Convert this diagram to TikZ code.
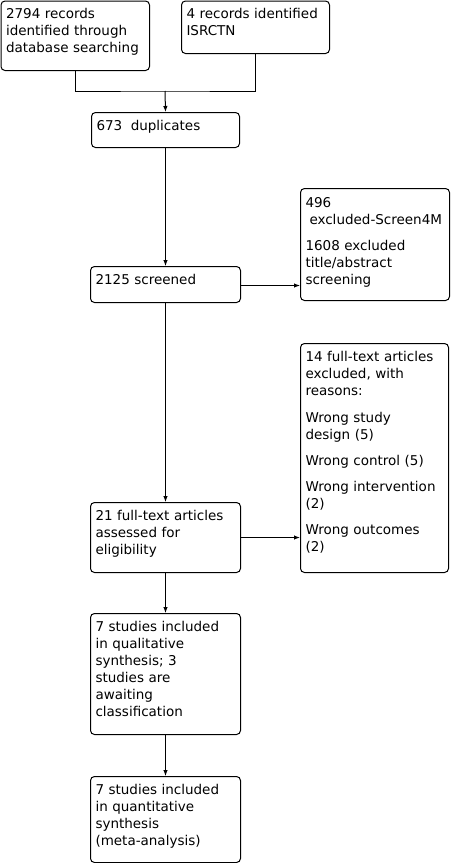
\documentclass[tikz,border=0pt]{standalone}
\usepackage{fontspec}
\setmainfont{DejaVu Sans}
\usetikzlibrary{arrows.meta}
\tikzset{
	box/.style={draw,rounded corners=4pt,line width=1pt,inner sep=0pt,anchor=north west},
	txt/.style={anchor=base west,inner sep=0pt,align=left,text width=160pt,font=\fontsize{13.5}{17}\selectfont},
	arr/.style={-{Latex[length=6pt,width=4.5pt]},line width=1pt}
}
\begin{document}
\begin{tikzpicture}[x=1pt,y=-1pt,line width=1pt]
	\useasboundingbox (0,0) rectangle (452,863);
	
	\node[box,minimum width=148.5pt,minimum height=69.5pt] (srch) at (0.5,0.5) {};
	\node[box,minimum width=148pt,minimum height=52.5pt] (isrctn) at (181,0.5) {};
	\node[box,minimum width=148pt,minimum height=35pt] (dupl) at (91,112) {};
	\node[box,minimum width=150pt,minimum height=36pt] (scrn) at (90,266) {};
	\node[box,minimum width=149pt,minimum height=112pt] (excla) at (300,188) {};
	\node[box,minimum width=150pt,minimum height=70pt] (full) at (90,502) {};
	\node[box,minimum width=148pt,minimum height=229pt] (exclb) at (300,343) {};
	\node[box,minimum width=150pt,minimum height=121pt] (qual) at (90,613) {};
	\node[box,minimum width=150pt,minimum height=86pt] (quan) at (90,776) {};
	
	\node[txt] (srch-t) at ([shift={(5pt,-18pt)}]srch.north west) {2794 records\\identified through\\database searching};
	\node[txt] (isrctn-t) at ([shift={(5pt,-18pt)}]isrctn.north west) {4 records identified\\ISRCTN};
	\node[txt] (dupl-t) at ([shift={(5pt,-18pt)}]dupl.north west) {673\hspace*{4pt} duplicates};
	\node[txt] (scrn-t) at ([shift={(5pt,-18pt)}]scrn.north west) {2125 screened};
	\begin{scope}
		\clip (excla.south west) rectangle (excla.north east);
		\node[txt] (excla-t) at ([shift={(5pt,-19pt)}]excla.north west) {496\\\hspace*{4pt}excluded-Screen4M\\[9pt]1608 excluded\\title/abstract\\screening};
	\end{scope}
	\node[txt] (exclb-t) at ([shift={(5pt,-18pt)}]exclb.north west) {14 full-text articles\\excluded, with\\reasons:\\[10pt]Wrong study\\design (5)\\[9pt]Wrong control (5)\\[9pt]Wrong intervention\\(2)\\[9pt]Wrong outcomes\\(2)};
	\node[txt] (full-t) at ([shift={(5pt,-18pt)}]full.north west) {21 full-text articles\\assessed for\\eligibility};
	\node[txt] (qual-t) at ([shift={(5pt,-18pt)}]qual.north west) {7 studies included\\in qualitative\\synthesis; 3\\studies are\\awaiting\\classification};
	\node[txt] (quan-t) at ([shift={(5pt,-18pt)}]quan.north west) {7 studies included\\in quantitative\\synthesis\\(meta-analysis)};
	
	\coordinate (mrg) at (165,91);
	\draw (srch.south) |- (mrg) -| (isrctn.south);
	\draw[arr] (mrg) -- (dupl.north);
	\draw[arr] (dupl.south) -- (scrn.north);
	\draw[arr] ([yshift=-1pt]scrn.east) -- ([yshift=-1pt]scrn.east -| excla.west);
	\draw[arr] (scrn.south) -- (full.north);
	\draw[arr] (full.east) -- (full.east -| exclb.west);
	\draw[arr] (full.south) -- (qual.north);
	\draw[arr] (qual.south) -- (quan.north);
\end{tikzpicture}
\end{document}
